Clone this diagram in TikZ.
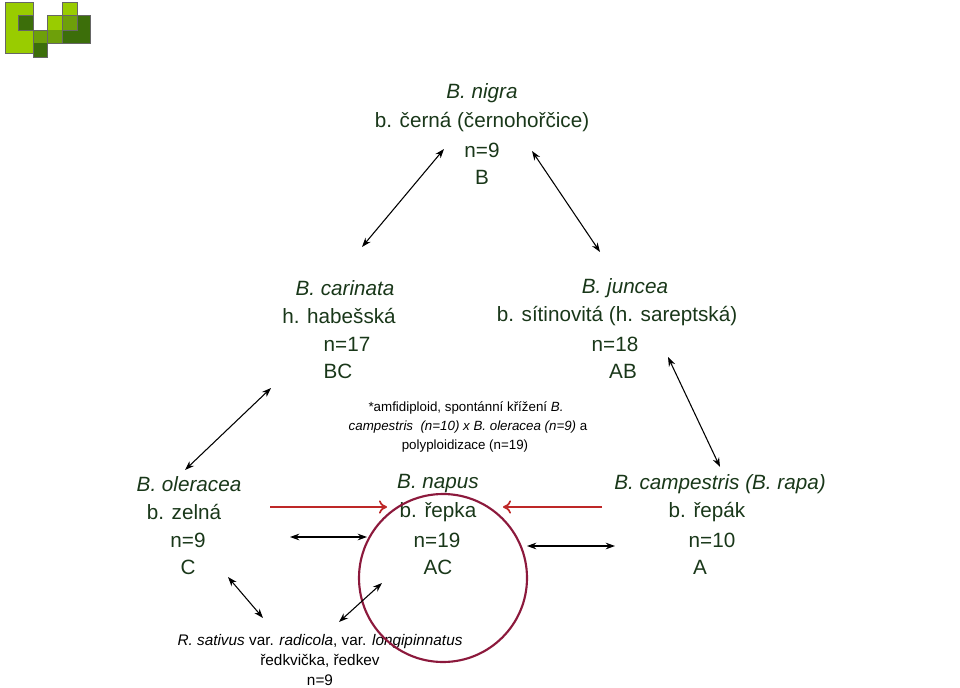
\documentclass[tikz,border=0pt]{standalone}
\usepackage{fontspec}
\setmainfont{Liberation Sans}
\usetikzlibrary{arrows.meta}
\definecolor{txt}{RGB}{25,55,25}
\definecolor{lg}{RGB}{153,204,0}
\definecolor{mg}{RGB}{110,160,10}
\definecolor{dg}{RGB}{60,110,10}
\definecolor{circ}{RGB}{140,25,60}
\definecolor{rarr}{RGB}{190,40,40}
\begin{document}
\begin{tikzpicture}[x=0.75pt,y=-0.75pt,
  lab/.style={text=txt,font=\fontsize{15.5}{17}\selectfont,inner sep=0pt,anchor=center},
  note/.style={font=\fontsize{10}{11}\selectfont,inner sep=0pt,anchor=center},
  dbl/.style={{Stealth[length=7pt,width=5pt]}-{Stealth[length=7pt,width=5pt]},line width=0.8pt},
  red/.style={-{To[length=6pt,width=10pt]},rarr,line width=1.3pt}]
\useasboundingbox (0,0) rectangle (960,688);
% logo
\fill[lg] (5,2) rectangle (33,53);
\fill[dg] (18,15) rectangle (33,30);
\fill[mg] (33,30) rectangle (47,43);
\fill[dg] (33,43) rectangle (47,57);
\fill[lg] (47,15) rectangle (62,30);
\fill[mg] (47,30) rectangle (62,43);
\fill[lg] (62,2) rectangle (77,15);
\fill[dg] (62,15) rectangle (90,43);
\fill[mg] (62,15) rectangle (77,30);
\draw[black!60,line width=0.4pt] (5,2) rectangle (33,53) (18,15) rectangle (33,30) (33,30) rectangle (47,57) (47,15) rectangle (62,43) (62,2) rectangle (77,30) (62,15) rectangle (90,43);
% top
\node[lab] (n1) at (482,93) {\itshape B. nigra};
\node[lab] (n2) at (482,122) {b. černá (černohořčice)};
\node[lab] (n3) at (482,150) {n=9};
\node[lab] (n4) at (482,177) {B};
% carinata
\node[lab] (c1) at (345,288) {\itshape B. carinata};
\node[lab] (c2) at (339,316) {h. habešská};
\node[lab] (c3) at (347,344) {n=17};
\node[lab] (c4) at (338,371) {BC};
% juncea
\node[lab] (j1) at (625,288) {\itshape B. juncea};
\node[lab] (j2) at (617,316) {b. sítinovitá (h. sareptská)};
\node[lab] (j3) at (615,344) {n=18};
\node[lab] (j4) at (623,371) {AB};
% note
\node[note] (t1) at (466,408) {*amfidiploid, spontánní křížení \textit{B.}};
\node[note] (t2) at (468,427) {\textit{campestris\ \ (n=10) x B. oleracea (n=9)} a};
\node[note] (t3) at (465,446) {polyploidizace (n=19)};
% oleracea
\node[lab] (o1) at (189,484) {\itshape B. oleracea};
\node[lab] (o2) at (184,512) {b. zelná};
\node[lab] (o3) at (188,540) {n=9};
\node[lab] (o4) at (188,567) {C};
% napus
\node[lab] (p1) at (438,484) {\itshape B. napus};
\node[lab] (p2) at (438,512) {b. řepka};
\node[lab] (p3) at (437,540) {n=19};
\node[lab] (p4) at (438,567) {AC};
% campestris
\node[lab] (r1) at (720,484) {\itshape B. campestris (B. rapa)};
\node[lab] (r2) at (707,512) {b. řepák};
\node[lab] (r3) at (712,540) {n=10};
\node[lab] (r4) at (700,567) {A};
% sativus
\node[note,font=\fontsize{11.5}{12}\selectfont] (s1) at (320,642) {\textit{R. sativus} var. \textit{radicola}, var. \textit{longipinnatus}};
\node[note,font=\fontsize{11.5}{12}\selectfont] (s2) at (320,661) {ředkvička, ředkev};
\node[note,font=\fontsize{11.5}{12}\selectfont] (s3) at (320,680) {n=9};
% circle
\node[draw=circ,line width=1.6pt,circle,minimum size=168*0.75pt,inner sep=0pt] (circ) at (443,578) {};
% coordinates for arrows
\coordinate (a1) at (362,247); \coordinate (a2) at (444,149);
\coordinate (b1) at (532,151); \coordinate (b2) at (600,252);
\coordinate (d1) at (185,470); \coordinate (d2) at (271,388);
\coordinate (e1) at (668,357); \coordinate (e2) at (720,467);
\coordinate (f1) at (290,537); \coordinate (f2) at (367,537);
\coordinate (g1) at (527,546); \coordinate (g2) at (615,546);
\coordinate (h1) at (228,577); \coordinate (h2) at (263,618);
\coordinate (k1) at (339,622); \coordinate (k2) at (382,583);
\coordinate (r1s) at (270,507); \coordinate (r1e) at (387,507);
\coordinate (r2s) at (602,507); \coordinate (r2e) at (503,507);
\foreach \u/\v in {a1/a2,b1/b2,d1/d2,e1/e2,f1/f2,g1/g2,h1/h2,k1/k2}
  \draw[dbl] (\u) -- (\v);
\draw[red] (r1s) -- (r1e);
\draw[red] (r2s) -- (r2e);
\end{tikzpicture}
\end{document}
